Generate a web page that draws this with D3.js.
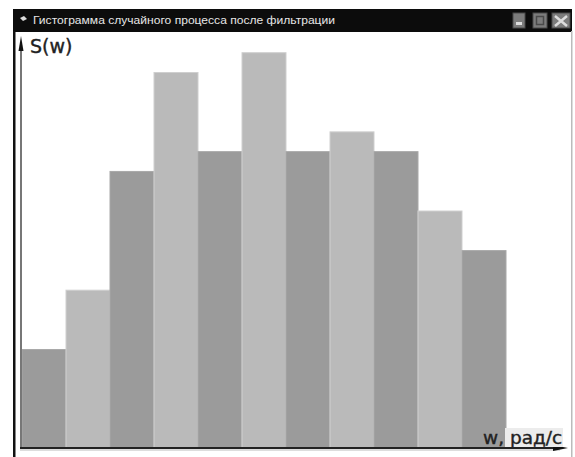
<!DOCTYPE html>
<html>
<head>
<meta charset="utf-8">
<script src="https://cdn.jsdelivr.net/npm/d3@7"></script>
<style>
  html, body { margin: 0; padding: 0; background: #fff; }
  svg { display: block; }
</style>
</head>
<body>
<svg id="chart" width="575" height="457"></svg>
<script>
// Histogram of the filtered random process: counts per frequency bin
const bins = ["1", "2", "3", "4", "5", "6", "7", "8", "9", "10", "11"];
const counts = [5, 8, 14, 19, 15, 20, 15, 16, 15, 12, 10];
const windowTitle = "Гистограмма случайного процесса после фильтрации";
const yLabel = "S(w)";
const xLabel = "w, рад/с";

const svg = d3.select("#chart");

// window frame
svg.append("rect").attr("x", 13).attr("y", 9).attr("width", 559).attr("height", 23).attr("fill", "#0c0c0c");
svg.append("rect").attr("x", 13).attr("y", 31).attr("width", 2.5).attr("height", 426).attr("fill", "#111");
svg.append("rect").attr("x", 571).attr("y", 31).attr("width", 1.5).attr("height", 426).attr("fill", "#bbb");

// title icon and caption
svg.append("path").attr("d", "M20,18 L24,16 L27,19 L23,21 Z").attr("fill", "#ddd");
svg.append("text")
  .attr("x", 33).attr("y", 24)
  .attr("font-family", "Liberation Sans, Arial, sans-serif")
  .attr("font-size", 10).attr("font-weight", "normal")
  .attr("fill", "#e6e6e6")
  .attr("textLength", 302).attr("lengthAdjust", "spacingAndGlyphs")
  .text(windowTitle);

// caption buttons: minimize, maximize, close
const btn = svg.append("g");
[[513, 12], [533, 14], [552, 18]].forEach(([bx, bw]) => {
  btn.append("rect").attr("x", bx).attr("y", 13).attr("width", bw).attr("height", 15)
    .attr("fill", "#7c7c7c").attr("stroke", "#4a4a4a").attr("stroke-width", 1);
});
btn.append("rect").attr("x", 516).attr("y", 22).attr("width", 6).attr("height", 3).attr("fill", "#ddd");
btn.append("rect").attr("x", 536.5).attr("y", 16.5).attr("width", 7).attr("height", 8)
  .attr("fill", "none").attr("stroke", "#4a4a4a").attr("stroke-width", 1.5);
btn.append("path").attr("d", "M555,16 L567,26 M567,16 L555,26")
  .attr("stroke", "#ddd").attr("stroke-width", 2.5);

// scales
const x = d3.scaleBand().domain(bins).range([22, 506]).padding(0);
const y = d3.scaleLinear().domain([0, 20]).range([448.5, 52.7]);

// bars, alternating grey shades
svg.append("g").selectAll("rect")
  .data(counts)
  .join("rect")
  .attr("x", (d, i) => x(bins[i]))
  .attr("y", d => y(d))
  .attr("width", x.bandwidth())
  .attr("height", d => y(0) - y(d))
  .attr("fill", (d, i) => i % 2 === 0 ? "#9b9b9b" : "#bababa")
  .attr("stroke", (d, i) => i % 2 === 0 ? "#a8a8a8" : "#cfcfcf")
  .attr("stroke-width", 1);

// vertical axis with arrow
svg.append("line").attr("x1", 21).attr("x2", 21).attr("y1", 44).attr("y2", 449)
  .attr("stroke", "#777").attr("stroke-width", 2);
svg.append("path").attr("d", "M21,36 L18.5,51 L23.5,51 Z").attr("fill", "#111");

// horizontal axis with arrow
svg.append("line").attr("x1", 20).attr("x2", 558).attr("y1", 448).attr("y2", 448)
  .attr("stroke", "#222").attr("stroke-width", 2);
svg.append("line").attr("x1", 20).attr("x2", 560).attr("y1", 450).attr("y2", 450)
  .attr("stroke", "#bbb").attr("stroke-width", 1);
svg.append("path").attr("d", "M568,448 L553,445 L553,451 Z").attr("fill", "#111");

// axis labels
svg.append("text")
  .attr("x", 30).attr("y", 53)
  .attr("font-family", "DejaVu Sans, sans-serif")
  .attr("font-size", 19).attr("fill", "#222")
  .attr("stroke", "#222").attr("stroke-width", 0.4)
  .text(yLabel);

svg.append("rect").attr("x", 505).attr("y", 428).attr("width", 58).attr("height", 19).attr("fill", "#ececec");
svg.append("text")
  .attr("x", 483).attr("y", 444)
  .attr("font-family", "DejaVu Sans, sans-serif")
  .attr("font-size", 18.5).attr("fill", "#222")
  .attr("stroke", "#222").attr("stroke-width", 0.4)
  .text(xLabel);
</script>
</body>
</html>
